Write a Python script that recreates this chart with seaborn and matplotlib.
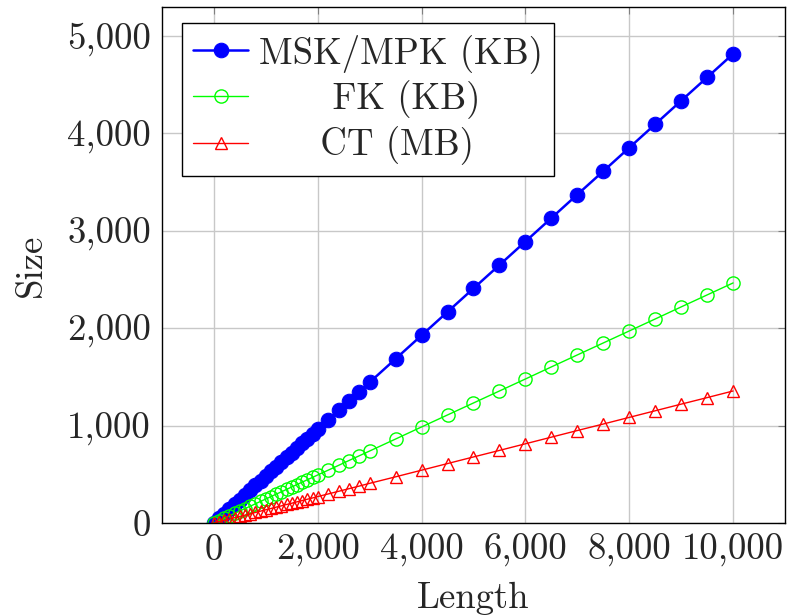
import pandas as pd
import matplotlib
matplotlib.use("Agg")
import matplotlib.pyplot as plt
import matplotlib.ticker as mticker
import seaborn as sns

# sizes
length = [0, 100, 200, 300, 400, 500, 600, 700, 800, 900, 1000,
          1100, 1200, 1300, 1400, 1500, 1600, 1700, 1800, 1900, 2000,
          2200, 2400, 2600, 2800, 3000, 3500, 4000, 4500, 5000, 5500,
          6000, 6500, 7000, 7500, 8000, 8500, 9000, 9500, 10000]
msk_kb = [0, 48, 96, 144, 193, 241, 289, 337, 385, 433, 481,
          530, 578, 626, 674, 722, 770, 818, 867, 915, 963,
          1059, 1156, 1252, 1348, 1444, 1685, 1926, 2167, 2408, 2648,
          2889, 3130, 3371, 3611, 3852, 4093, 4334, 4574, 4815]
fk_kb = [0, 25, 49, 74, 99, 123, 148, 172, 197, 222, 246,
         271, 296, 320, 345, 370, 394, 419, 444, 468, 493,
         542, 591, 641, 690, 739, 862, 986, 1109, 1232, 1355,
         1478, 1602, 1725, 1848, 1971, 2094, 2218, 2341, 2464]
ct_mb = [0, 14, 27, 41, 54, 68, 81, 95, 108, 122, 136,
         149, 163, 176, 190, 203, 217, 230, 244, 257, 271,
         298, 325, 352, 379, 407, 474, 542, 610, 678, 745,
         813, 881, 949, 1016, 1084, 1152, 1220, 1287, 1355]

df = pd.DataFrame({"length": length, "msk": msk_kb, "fk": fk_kb, "ct": ct_mb})

FS = 26.5

sns.set_style("white")
plt.rcParams["font.family"] = ["cmr10", "DejaVu Serif"]
plt.rcParams["axes.formatter.use_mathtext"] = True
plt.rcParams["font.size"] = FS

fig = plt.figure(figsize=(7.87, 6.15), dpi=100)
ax = fig.add_axes([0.2058, 0.1496, 0.7917, 0.839])

sns.lineplot(data=df, x="length", y="msk", ax=ax, color="blue", lw=1.8,
             marker="o", markersize=10.5, mfc="blue", mec="blue",
             label="MSK/MPK (KB)")
sns.lineplot(data=df, x="length", y="fk", ax=ax, color=(0, 1, 0), lw=1.0,
             marker="o", markersize=9.5, mfc="none", mec=(0, 1, 0), mew=1.0,
             label="      FK (KB)")
sns.lineplot(data=df, x="length", y="ct", ax=ax, color="red", lw=1.0,
             marker="^", markersize=8, mfc="none", mec="red", mew=1.0,
             label="     CT (MB)")

ax.set_xlim(-1000, 11000)
ax.set_ylim(0, 5296)
ax.set_xticks([0, 2000, 4000, 6000, 8000, 10000])
ax.set_yticks([0, 1000, 2000, 3000, 4000, 5000])
fmt = mticker.FuncFormatter(lambda v, p: "{:,.0f}".format(v))
ax.xaxis.set_major_formatter(fmt)
ax.yaxis.set_major_formatter(fmt)
ax.grid(True, color="#c8c8c8", lw=1.0)
ax.set_axisbelow(True)
ax.tick_params(direction="in", top=True, right=True, length=5,
               color="#808080", labelsize=FS, pad=8)
for s in ax.spines.values():
    s.set_color("black")
    s.set_linewidth(1.0)

ax.set_xlabel("Length", fontsize=FS, labelpad=10)
ax.set_ylabel("Size", fontsize=FS, labelpad=14)

leg = ax.legend(loc="upper left", bbox_to_anchor=(0.032, 0.969),
                fancybox=False, framealpha=1, edgecolor="black",
                fontsize=FS, handlelength=1.5, handletextpad=0.3,
                borderpad=0.3, labelspacing=0.2, borderaxespad=0)
leg.get_frame().set_linewidth(1.0)

fig.savefig("out.png", dpi=100)
